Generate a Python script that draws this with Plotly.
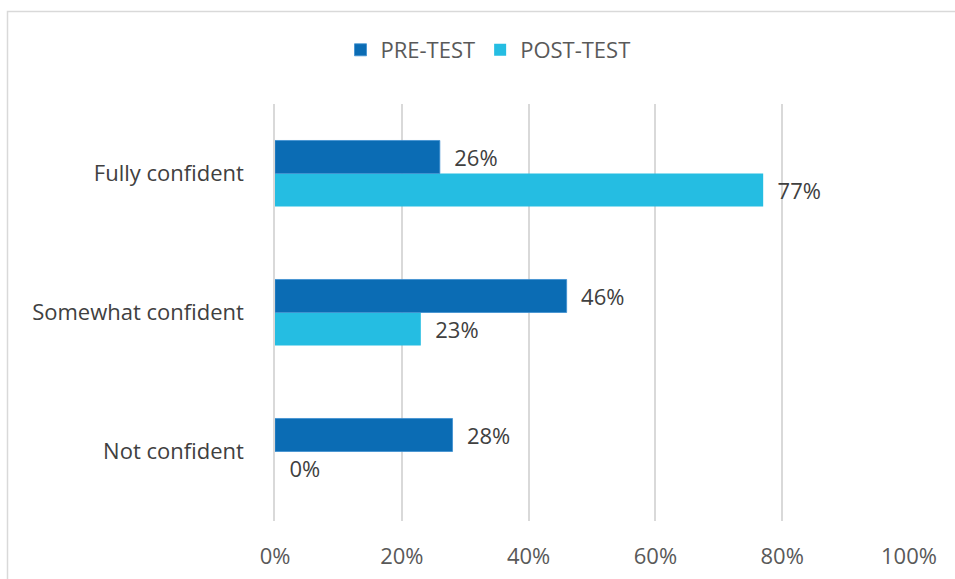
import plotly.graph_objects as go

categories = ["Not confident", "Somewhat confident", "Fully confident"]
pre_test = [28, 46, 26]
post_test = [0, 23, 77]
tick_vals = [0, 20, 40, 60, 80, 100]
tick_text = ["0%", "20%", "40%", "60%", "80%", "100%"]

FONT = "Open Sans"
FS = 22
W, H = 955, 579
L, R, T, B = 275, 46, 104, 58
pw = W - L - R
ph = H - T - B

fig = go.Figure()
# POST first so that PRE sits on top within each group (horizontal bars stack upward)
fig.add_trace(go.Bar(
    name="POST-TEST", y=categories, x=post_test, orientation="h",
    marker=dict(color="#25BDE2", line=dict(width=0)),
    text=[f"{v}%" for v in post_test],
    texttemplate="\u00a0\u00a0%{text}", textposition="outside",
    textfont=dict(size=FS, color="#404040", family=FONT),
    cliponaxis=False, legendrank=2, hoverinfo="skip",
))
fig.add_trace(go.Bar(
    name="PRE-TEST", y=categories, x=pre_test, orientation="h",
    marker=dict(color="#0B6CB4", line=dict(color="#3D8FD0", width=0.8)),
    text=[f"{v}%" for v in pre_test],
    texttemplate="\u00a0\u00a0%{text}", textposition="outside",
    textfont=dict(size=FS, color="#404040", family=FONT),
    cliponaxis=False, legendrank=1, hoverinfo="skip",
))

fig.update_layout(
    width=W, height=H,
    margin=dict(l=L, r=R, t=T, b=B, autoexpand=False),
    barmode="group", bargap=0.525, bargroupgap=0,
    paper_bgcolor="white", plot_bgcolor="white",
    font=dict(family=FONT, size=FS, color="#595959"),
    showlegend=True,
    legend=dict(
        orientation="h", x=(488 - L) / pw, xanchor="center",
        y=1 + (T - 50) / ph, yanchor="middle",
        font=dict(size=FS, color="#595959", family=FONT),
        itemwidth=30,
    ),
    xaxis=dict(
        range=[0, 100], tickvals=tick_vals, ticktext=tick_text,
        showgrid=True, gridcolor="#D9D9D9", gridwidth=1.5,
        zeroline=False, showline=False, ticks="",
        tickfont=dict(size=FS, color="#595959", family=FONT),
        ticklabelstandoff=20,
    ),
    yaxis=dict(
        showgrid=False, zeroline=False, ticks="",
        showline=True, linecolor="#D9D9D9", linewidth=1.5,
        tickfont=dict(size=FS, color="#404040", family=FONT),
        ticklabelstandoff=25,
    ),
    shapes=[
        dict(type="rect", xref="paper", yref="paper",
             x0=(7.5 - L) / pw, x1=(W + 20 - L) / pw,
             y0=-(B + 20) / ph, y1=1 + (T - 11.5) / ph,
             line=dict(color="#D9D9D9", width=1.5), layer="below"),
    ],
)

fig.write_html("out.html", config={"displayModeBar": False},
               post_script="document.body.style.margin='0';")
